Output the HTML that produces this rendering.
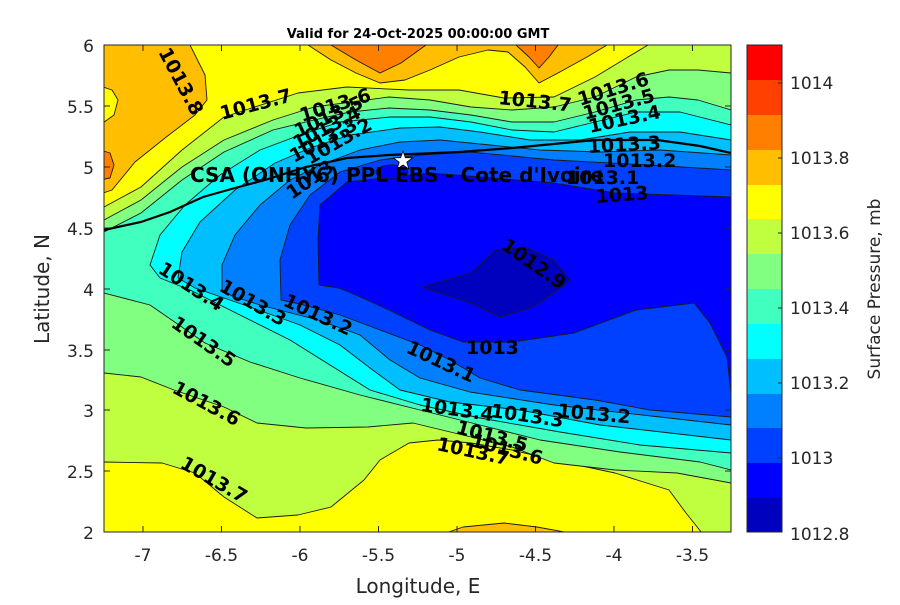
<!DOCTYPE html>
<html><head><meta charset="utf-8"><style>
html,body{margin:0;padding:0;background:#fff;}
svg text{font-family:"DejaVu Sans","Liberation Sans",sans-serif;}
</style></head><body>
<svg width="900" height="600" viewBox="0 0 900 600" xmlns="http://www.w3.org/2000/svg">
<defs><clipPath id="pc"><rect x="104" y="45" width="627" height="487"/></clipPath></defs>
<g clip-path="url(#pc)" stroke="#1a1a1a" stroke-width="0.9" stroke-linejoin="round">
<rect x="104" y="45" width="627" height="487" fill="#FFFF00" stroke="none"/>
<polygon fill="#FFBF00" points="100,40 190,40 190,45 205,75 207,100 195,115 165,138 135,162 112,190 100,194"/>
<polygon fill="#FF8000" points="100,150 110,153 114,165 110,178 100,180"/>
<polygon fill="#FFFF00" points="100,86 112,90 118,100 114,115 100,125"/>
<polygon fill="#FFBF00" points="308,40 308,45 331,60 356,73 380,83 405,80 430,70 459,57 488,50 508,52 525,67 539,83 558,73 587,57 607,45 607,40"/>
<polygon fill="#FF8000" points="331,40 331,45 356,60 380,73 401,63 426,45 426,40"/>
<polygon fill="#FF8000" points="516,40 516,45 529,57 539,68 549,57 558,45 558,40"/>
<polygon fill="#FFBF00" points="440,540 446,533 463,527 504,523 537,527 570,533 575,540"/>
<polygon fill="#BFFF40" points="100,209 104,207 141,187 182,150 224,117 298,93 347,87 409,90 459,90 504,98 554,97 595,77 628,57 648,45 652,40 740,40 740,540 705,540 702,533 686,513 669,490 615,473 554,460 512,450 471,443 438,440 409,443 380,460 364,480 331,507 298,515 257,518 224,497 195,473 162,463 104,462 100,462"/>
<polygon fill="#80FF80" points="100,222 104,220 141,200 182,167 224,140 273,120 314,107 389,97 430,100 471,107 512,110 554,107 595,97 636,77 669,70 698,70 731,73 740,74 740,485 731,483 677,473 615,470 554,463 512,447 471,437 413,423 368,427 306,428 257,423 224,407 174,390 141,377 104,373 100,373"/>
<polygon fill="#40FFBF" points="100,234 104,232 141,213 182,180 224,152 273,130 314,120 350,112 389,108 430,110 471,115 512,122 554,122 595,112 636,100 669,97 698,100 731,110 740,111 740,471 731,470 700,462 620,452 540,440 480,425 420,410 360,395 300,378 250,362 205,343 150,305 104,293 100,293"/>
<polygon fill="#00FFFF" points="150,265 160,235 185,205 220,175 260,150 300,135 340,122 390,117 430,117 471,122 512,130 554,132 595,122 636,112 680,112 731,125 740,126 740,454 731,453 640,445 560,432 480,418 420,405 370,390 330,365 290,340 240,315 190,290 160,278"/>
<polygon fill="#00BFFF" points="178,278 182,252 200,222 235,190 275,163 310,148 350,135 400,128 440,127 480,132 530,140 580,140 630,132 680,132 731,140 740,141 740,441 731,440 600,425 520,410 450,402 400,390 370,368 340,345 300,325 250,307 195,288"/>
<polygon fill="#0080FF" points="222,290 222,265 235,235 260,205 290,180 320,165 360,150 400,142 440,140 490,145 540,150 600,152 660,150 731,155 740,156 740,426 731,425 660,417 554,405 470,392 420,378 390,360 360,335 318,320 260,305 232,296"/>
<polygon fill="#0040FF" points="281,300 280,260 290,225 310,195 340,172 380,160 420,155 470,152 554,160 650,165 731,170 740,170 740,418 731,417 650,410 595,400 520,390 480,378 450,360 420,345 380,330 340,315 300,304"/>
<polygon fill="#0000FF" points="319,285 318,240 320,205 347,182 430,173 554,183 615,193 731,197 740,197 740,395 731,393 727,357 710,323 694,303 636,310 574,333 512,342 463,342 430,330 389,310 356,295 339,288"/>
<polygon fill="#0000BF" points="422,287 471,273 496,250 525,247 554,260 570,280 562,287 533,307 500,317 471,303 430,290"/>
<ellipse cx="392" cy="172" rx="16" ry="7" fill="#0000FF"/>
</g>
<polyline clip-path="url(#pc)" fill="none" stroke="#000" stroke-width="2.2" points="104,230 141,222 170,212 203,197 235,188 265,180 306,167 347,158 389,155 459,152 512,148 595,140 657,140 700,146 731,153"/>
<polygon points="403,151 405.4,157.7 412.5,157.9 406.8,162.2 408.9,169 403,165 397.1,169 399.2,162.2 393.5,157.9 400.6,157.7" fill="#fff" stroke="#000" stroke-width="0.8"/>
<g font-weight="bold" font-size="19" fill="#000">
<text transform="translate(158,52) rotate(62)">1013.8</text>
<text transform="translate(222,120) rotate(-15)">1013.7</text>
<text transform="translate(302,122) rotate(-17)">1013.6</text>
<text transform="translate(298,138) rotate(-25)">1013.5</text>
<text transform="translate(297,150) rotate(-27)">1013.4</text>
<text transform="translate(294,163) rotate(-28)">1013.3</text>
<text transform="translate(310,165) rotate(-30)">1013.2</text>
<text transform="translate(292,200) rotate(-35)">1013</text>
<text transform="translate(498,104) rotate(6)">1013.7</text>
<text transform="translate(580,106) rotate(-17)">1013.6</text>
<text transform="translate(585,120) rotate(-15)">1013.5</text>
<text transform="translate(590,133) rotate(-12)">1013.4</text>
<text transform="translate(588,153) rotate(-3)">1013.3</text>
<text transform="translate(603,167)">1013.2</text>
<text transform="translate(566,184)">1013.1</text>
<text transform="translate(596,203) rotate(-4)">1013</text>
<text transform="translate(500,248) rotate(35)">1012.9</text>
<text transform="translate(157,272) rotate(33)">1013.4</text>
<text transform="translate(218,290) rotate(30)">1013.3</text>
<text transform="translate(282,305) rotate(25)">1013.2</text>
<text transform="translate(170,326) rotate(35)">1013.5</text>
<text transform="translate(405,352) rotate(25)">1013.1</text>
<text transform="translate(466,354)">1013</text>
<text transform="translate(171,392) rotate(28)">1013.6</text>
<text transform="translate(179,467) rotate(30)">1013.7</text>
<text transform="translate(420,411) rotate(8)">1013.4</text>
<text transform="translate(490,417) rotate(8)">1013.3</text>
<text transform="translate(557,417) rotate(5)">1013.2</text>
<text transform="translate(455,433) rotate(15)">1013.5</text>
<text transform="translate(470,446) rotate(15)">1013.6</text>
<text transform="translate(436,450) rotate(12)">1013.7</text>
</g>
<text x="190" y="182" font-weight="bold" font-size="20" fill="#000">CSA (ONHY6) PPL EBS  - Cote d'Ivoire</text>
<rect x="104" y="45" width="627" height="487" fill="none" stroke="#262626" stroke-width="1"/>
<g stroke="#262626" stroke-width="1">
<path d="M143,532v-6M221.5,532v-6M300,532v-6M378.5,532v-6M457,532v-6M535.5,532v-6M614,532v-6M692.5,532v-6"/>
<path d="M143,45v6M221.5,45v6M300,45v6M378.5,45v6M457,45v6M535.5,45v6M614,45v6M692.5,45v6"/>
<path d="M104,106h6M104,167h6M104,228h6M104,289h6M104,350h6M104,410h6M104,471h6"/>
<path d="M731,106h-6M731,167h-6M731,228h-6M731,289h-6M731,350h-6M731,410h-6M731,471h-6"/>
</g>
<g font-size="17" fill="#262626" text-anchor="middle">
<text x="143" y="561">-7</text><text x="221.5" y="561">-6.5</text><text x="300" y="561">-6</text><text x="378.5" y="561">-5.5</text><text x="457" y="561">-5</text><text x="535.5" y="561">-4.5</text><text x="614" y="561">-4</text><text x="692.5" y="561">-3.5</text>
</g>
<g font-size="17" fill="#262626" text-anchor="end">
<text x="94" y="52">6</text><text x="94" y="113">5.5</text><text x="94" y="174">5</text><text x="94" y="235">4.5</text><text x="94" y="296">4</text><text x="94" y="357">3.5</text><text x="94" y="417">3</text><text x="94" y="478">2.5</text><text x="94" y="539">2</text>
</g>
<text x="418" y="593" font-size="20" fill="#262626" text-anchor="middle">Longitude, E</text>
<text transform="translate(49,289) rotate(-90)" font-size="20" fill="#262626" text-anchor="middle">Latitude, N</text>
<text x="418" y="38" font-size="13" font-weight="bold" fill="#000" text-anchor="middle">Valid for 24-Oct-2025 00:00:00 GMT</text>
<g>
<rect x="747" y="45" width="35" height="35" fill="#FF0000"/>
<rect x="747" y="80" width="35" height="35" fill="#FF4000"/>
<rect x="747" y="115" width="35" height="35" fill="#FF8000"/>
<rect x="747" y="150" width="35" height="35" fill="#FFBF00"/>
<rect x="747" y="185" width="35" height="34" fill="#FFFF00"/>
<rect x="747" y="219" width="35" height="35" fill="#BFFF40"/>
<rect x="747" y="254" width="35" height="35" fill="#80FF80"/>
<rect x="747" y="289" width="35" height="35" fill="#40FFBF"/>
<rect x="747" y="324" width="35" height="35" fill="#00FFFF"/>
<rect x="747" y="359" width="35" height="35" fill="#00BFFF"/>
<rect x="747" y="394" width="35" height="34" fill="#0080FF"/>
<rect x="747" y="428" width="35" height="35" fill="#0040FF"/>
<rect x="747" y="463" width="35" height="35" fill="#0000FF"/>
<rect x="747" y="498" width="35" height="34" fill="#0000BF"/>
<rect x="747" y="45" width="35" height="487" fill="none" stroke="#262626" stroke-width="1"/>
<path d="M782,83h-4M782,158h-4M782,233h-4M782,308h-4M782,383h-4M782,458h-4" stroke="#262626"/>
</g>
<g font-size="17" fill="#262626">
<text x="790" y="89">1014</text><text x="790" y="164">1013.8</text><text x="790" y="239">1013.6</text><text x="790" y="314">1013.4</text><text x="790" y="389">1013.2</text><text x="790" y="464">1013</text><text x="790" y="540">1012.8</text>
</g>
<text transform="translate(880,289) rotate(-90)" font-size="17" fill="#262626" text-anchor="middle">Surface Pressure, mb</text>
</svg>
</body></html>
